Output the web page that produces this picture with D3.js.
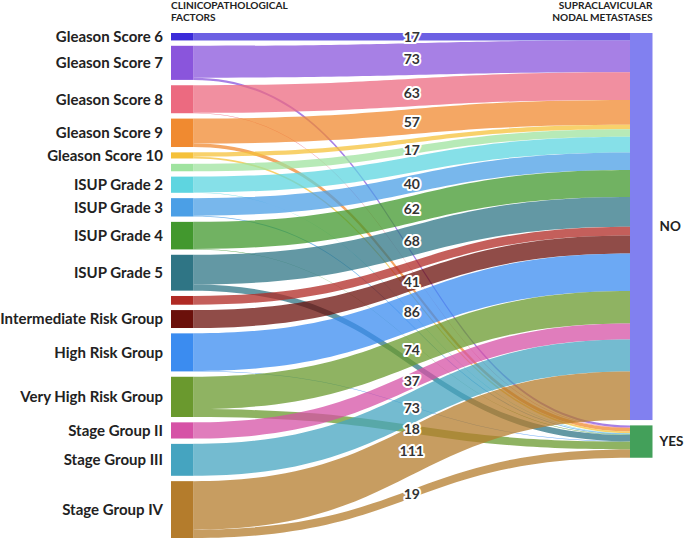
<!DOCTYPE html>
<html>
<head>
<meta charset="utf-8">
<script src="https://cdn.jsdelivr.net/npm/d3@7"></script>
<style>
  body { margin: 0; background: #fff; }
  svg { display: block; }
  text { font-family: Lato, "Source Sans Pro", sans-serif; font-weight: 700; fill: #222; }
</style>
</head>
<body>
<svg id="chart" width="685" height="540"></svg>
<script>
// left column: clinicopathological factors (top to bottom)
const factors = [
  "Gleason Score 6", "Gleason Score 7", "Gleason Score 8", "Gleason Score 9", "Gleason Score 10",
  "ISUP Grade 1", "ISUP Grade 2", "ISUP Grade 3", "ISUP Grade 4", "ISUP Grade 5",
  "Low Risk Group", "Intermediate Risk Group", "High Risk Group", "Very High Risk Group",
  "Stage Group II", "Stage Group III", "Stage Group IV"
];
// labels that the original left off (no room)
const hiddenFactorLabels = ["ISUP Grade 1", "Low Risk Group"];

const outcomes = ["NO", "YES"];

// patients per factor without / with supraclavicular nodal metastases
const noCounts  = [17, 73, 63, 57, 10, 17, 36, 40, 62, 68, 20, 41, 86, 74, 37, 73, 111];
const yesCounts = [0, 5, 1, 8, 4, 0, 1, 2, 1, 14, 0, 0, 1, 18, 0, 0, 19];

// which flows carry a value label
const unlabelledNo = ["Gleason Score 10", "ISUP Grade 2", "Low Risk Group"];
const labelledYes = ["Very High Risk Group", "Stage Group IV"];

const factorColors = [
  "#3b2bd9", "#8a55dc", "#ec6a80", "#f08a30", "#f5c13a",
  "#9fe39f", "#5ed5e0", "#4b9fe6", "#42982e", "#2f7585",
  "#b02a24", "#6b100b", "#3b8cf0", "#6a992e",
  "#d652a6", "#45a4c0", "#b47c2c"
];
const outcomeColors = ["#8180f0", "#43a05a"];

const svg = d3.select("#chart");
const plotTop = 33, plotBottom = 538, pad = 5.35;
const leftX = 171, rightX = 630, nodeW = 22.5;

const totals = factors.map((f, i) => noCounts[i] + yesCounts[i]);
const ky = d3.scaleLinear()
  .domain([0, d3.sum(totals)])
  .range([0, plotBottom - plotTop - (factors.length - 1) * pad]);

let y = plotTop;
const leftNodes = factors.map((name, i) => {
  const n = { name, y0: y, y1: y + ky(totals[i]), color: factorColors[i] };
  y = n.y1 + pad;
  return n;
});

const outTotals = [d3.sum(noCounts), d3.sum(yesCounts)];
y = plotTop;
const rightNodes = outcomes.map((name, j) => {
  const n = { name, y0: y, y1: y + ky(outTotals[j]), color: outcomeColors[j] };
  y = n.y1 + pad;
  return n;
});

// build flows, stacked at both ends in source order
const links = [];
const tOff = rightNodes.map(n => n.y0);
leftNodes.forEach((n, i) => {
  let sOff = n.y0;
  [noCounts[i], yesCounts[i]].forEach((v, j) => {
    if (!v) return;
    const w = ky(v);
    links.push({
      source: n, value: v,
      sy0: sOff, sy1: sOff + w,
      ty0: tOff[j], ty1: tOff[j] + w,
      labelled: j === 0 ? !unlabelledNo.includes(n.name) : labelledYes.includes(n.name)
    });
    sOff += w;
    tOff[j] += w;
  });
});

const curve = d3.linkHorizontal();
const x0 = leftX + nodeW, x1 = rightX;
function ribbon(l) {
  const upper = curve({ source: [x0, l.sy0], target: [x1, l.ty0] });
  const lower = curve({ source: [x1, l.ty1], target: [x0, l.sy1] });
  return upper + "L" + lower.slice(1) + "Z";
}

svg.append("g")
  .selectAll("path")
  .data(links)
  .join("path")
    .attr("d", ribbon)
    .attr("fill", d => d.source.color)
    .attr("fill-opacity", 0.75);

svg.append("g")
  .selectAll("rect")
  .data(leftNodes)
  .join("rect")
    .attr("x", leftX)
    .attr("y", d => d.y0)
    .attr("width", nodeW)
    .attr("height", d => d.y1 - d.y0)
    .attr("fill", d => d.color);

svg.append("g")
  .selectAll("rect")
  .data(rightNodes)
  .join("rect")
    .attr("x", rightX)
    .attr("y", d => d.y0)
    .attr("width", nodeW)
    .attr("height", d => d.y1 - d.y0)
    .attr("fill", d => d.color);

svg.append("g")
  .selectAll("text")
  .data(leftNodes.filter(d => !hiddenFactorLabels.includes(d.name)))
  .join("text")
    .attr("x", leftX - 8)
    .attr("y", d => (d.y0 + d.y1) / 2)
    .attr("dy", "0.36em")
    .attr("text-anchor", "end")
    .attr("font-size", 15)
    .text(d => d.name);

svg.append("g")
  .selectAll("text")
  .data(rightNodes)
  .join("text")
    .attr("x", rightX + nodeW + 7)
    .attr("y", d => (d.y0 + d.y1) / 2)
    .attr("dy", "0.36em")
    .attr("font-size", 13.5)
    .text(d => d.name);

// value labels at the middle of each flow
svg.append("g")
  .selectAll("text")
  .data(links.filter(d => d.labelled))
  .join("text")
    .attr("x", (x0 + x1) / 2)
    .attr("y", d => (d.sy0 + d.sy1 + d.ty0 + d.ty1) / 4)
    .attr("dy", "0.36em")
    .attr("text-anchor", "middle")
    .attr("font-size", 14)
    .attr("stroke", "#fff")
    .attr("stroke-width", 4)
    .attr("stroke-linejoin", "round")
    .attr("paint-order", "stroke")
    .style("fill", "#333")
    .text(d => d.value);

// column headers
const headers = [
  { lines: ["CLINICOPATHOLOGICAL", "FACTORS"], x: leftX, anchor: "start" },
  { lines: ["SUPRACLAVICULAR", "NODAL METASTASES"], x: rightX + nodeW, anchor: "end" }
];
headers.forEach(h => {
  svg.append("text")
    .attr("x", h.x)
    .attr("y", 8.5)
    .attr("text-anchor", h.anchor)
    .attr("font-size", 10.1)
    .selectAll("tspan")
    .data(h.lines)
    .join("tspan")
      .attr("x", h.x)
      .attr("dy", (d, i) => i ? 12.5 : 0)
      .text(d => d);
});
</script>
</body>
</html>
